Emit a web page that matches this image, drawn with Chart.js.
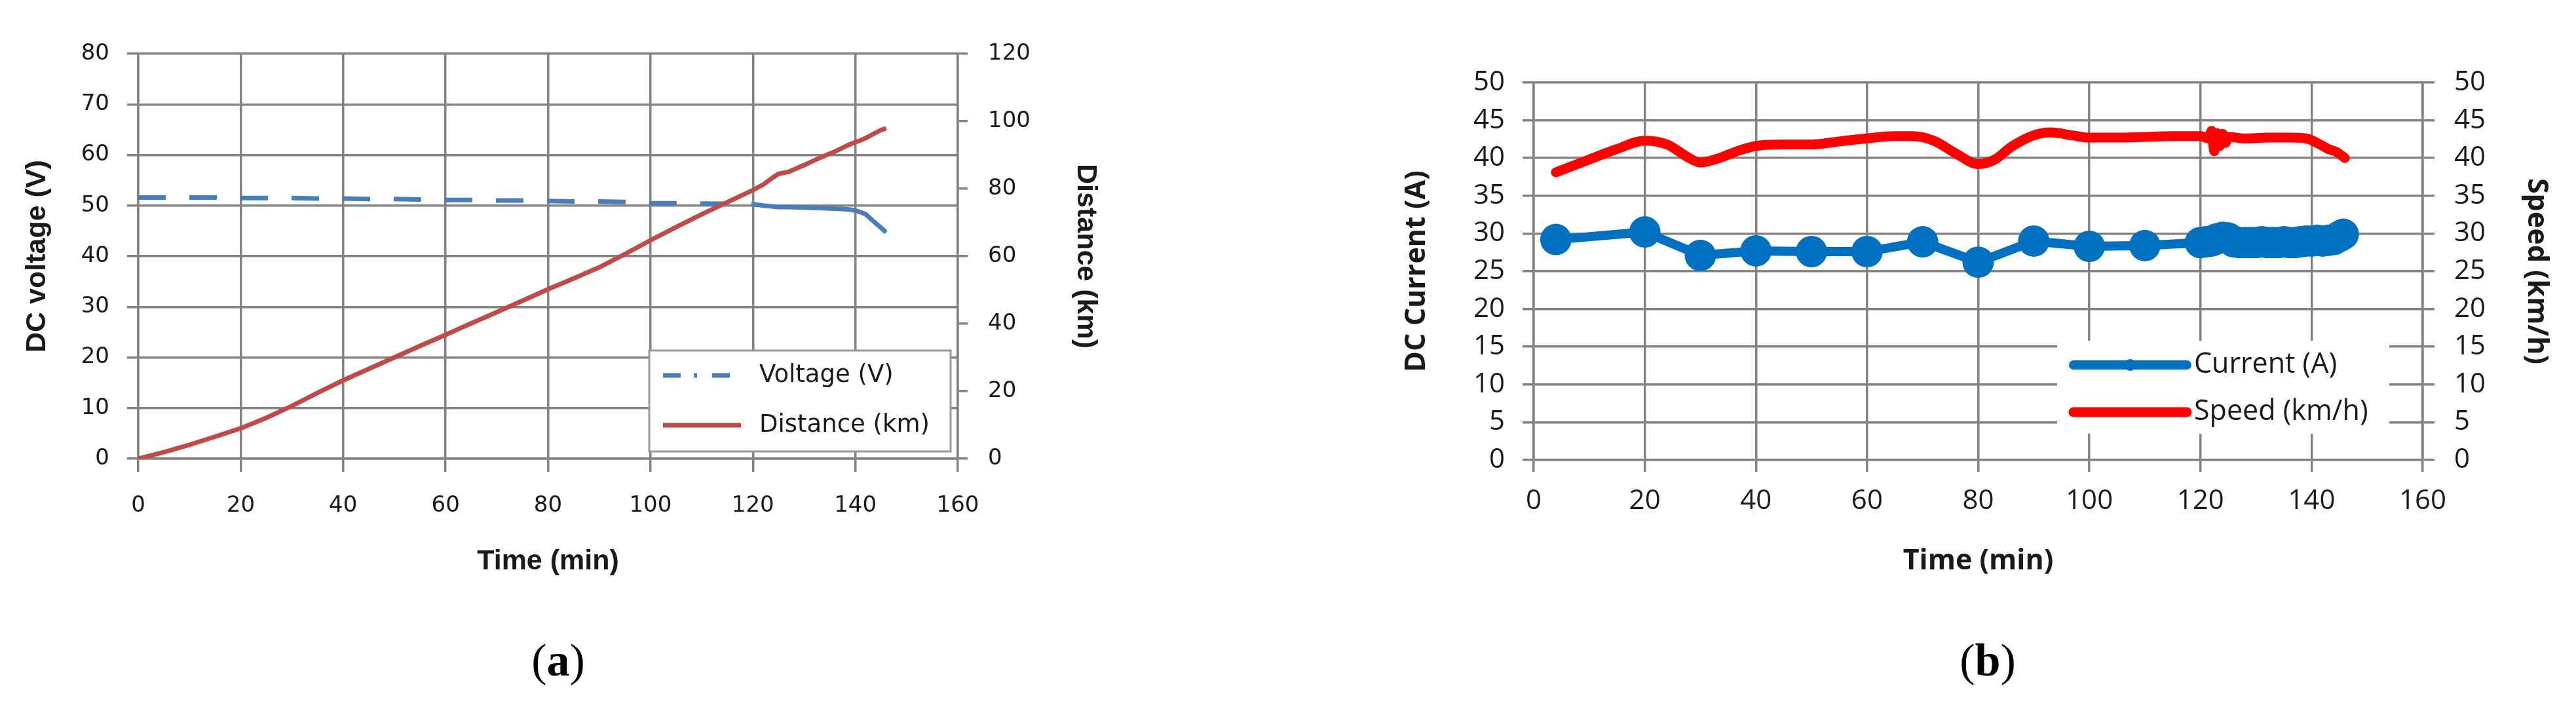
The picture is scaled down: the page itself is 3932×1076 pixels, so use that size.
<!DOCTYPE html>
<html>
<head>
<meta charset="utf-8">
<script src="https://cdn.jsdelivr.net/npm/chart.js@4.4.1/dist/chart.umd.min.js"></script>
<style>
    body { margin: 0; width: 3932px; height: 1076px; background: #fff; position: relative; overflow: hidden; }
    canvas { position: absolute; top: 0; }
    #grafica-a { left: 0; }
    #grafica-b { left: 1966px; }
    .pie { position: absolute; top: 968px; font-family: 'Liberation Serif', serif; font-size: 70px; line-height: 80px; transform: translateX(-50%); color: #000; }
</style>
</head>
<body>
<canvas id="grafica-a" width="1966" height="900"></canvas>
<canvas id="grafica-b" width="1966" height="900"></canvas>
<div class="pie" style="left:852px">(<b>a</b>)</div>
<div class="pie" style="left:3034px">(<b>b</b>)</div>
<script>
//--------------------------------------DATOS (a)
var tiempoA = [0, 5, 10, 15, 20, 25, 30, 35, 40, 45, 50, 55, 60, 65, 70, 75, 80, 85, 90, 95, 100, 105, 110, 115, 120,
    122, 124, 125, 127, 130, 133, 136, 138, 139, 140, 141, 142, 143, 144, 145, 146];
var voltaje = [51.6, 51.6, 51.6, 51.6, 51.5, 51.5, 51.5, 51.4, 51.4, 51.3, 51.3, 51.2, 51.1, 51.1, 51.0, 51.0, 50.9, 50.8, 50.8, 50.7, 50.5, 50.45, 50.4, 50.35, 50.3,
    50.0, 49.8, 49.7, 49.7, 49.6, 49.5, 49.4, 49.3, 49.2, 49.0, 48.7, 48.3, 47.4, 46.5, 45.6, 44.7];
var distancia = [0, 1.9, 4.1, 6.5, 9.0, 12.1, 15.6, 19.5, 23.2, 26.6, 30.0, 33.4, 36.7, 40.1, 43.4, 46.8, 50.2, 53.4, 56.7, 60.6, 64.7, 68.6, 72.4, 76.0, 79.6,
    81.2, 83.4, 84.4, 85.0, 87.0, 89.1, 91.0, 92.5, 93.2, 93.8, 94.3, 95.0, 95.8, 96.6, 97.4, 97.9];

//--------------------------------------DATOS (b)
var tiempoCorr = [4, 20, 30, 40, 50, 60, 70, 80, 90, 100, 110, 120, 121, 122, 123, 124, 125, 126, 127, 128, 129, 130,
    131, 132, 133, 134, 135, 136, 137, 138, 139, 140, 141, 142, 143, 144, 145, 145.7];
var corriente = [29.2, 30.2, 27.1, 27.7, 27.6, 27.6, 28.9, 26.2, 29.0, 28.3, 28.4, 28.8, 28.9, 29.0, 29.3, 29.5, 29.4, 28.9, 28.8, 28.8, 28.8, 28.8,
    28.9, 28.8, 28.8, 28.8, 28.9, 28.8, 28.8, 28.9, 29.0, 29.0, 29.1, 29.0, 29.1, 29.2, 29.6, 29.9];
var tiempoVel = [4, 10, 15, 20, 24, 28, 30, 33, 37, 40, 45, 50, 55, 60, 65, 68, 72, 76, 80, 83, 86, 90, 93, 97, 100, 105, 110, 115, 120,
    121.5, 122, 122.5, 123, 123.5, 124, 124.5, 125, 128, 132, 136, 139, 141, 143, 144.5, 146];
var velocidad = [38.1, 39.8, 41.2, 42.3, 41.8, 40.0, 39.4, 39.9, 41.0, 41.6, 41.8, 41.8, 42.2, 42.6, 42.9, 42.9, 42.3, 40.6, 39.2, 39.8, 41.5, 43.0, 43.4, 43.0, 42.7, 42.7, 42.8, 42.9, 42.9,
    42.6, 43.6, 40.9, 43.3, 41.6, 43.2, 42.0, 42.8, 42.6, 42.7, 42.7, 42.6, 42.0, 41.2, 40.8, 40.0];

var fuenteA = "'DejaVu Sans', sans-serif";
var fuenteTituloA = "'Liberation Sans Narrow', 'Liberation Sans', sans-serif";
var fuenteB = "'Open Sans', sans-serif";
var colorGrid = '#838383';
var colorTexto = '#1a1a1a';

function pares(xs, ys) {
    var arr = [];
    for (var i = 0; i < xs.length; i++) {
        arr.push({x: xs[i], y: ys[i]});
    }
    return arr;
}

//--------------------------------------LEYENDA DENTRO DEL AREA
var leyendaPlugin = {
    id: 'leyenda',
    afterDraw: function (chart, args, opts) {
        if (!opts.items) {
            return;
        }
        var ctx = chart.ctx;
        var a = chart.chartArea;
        var b = opts.caja;
        ctx.save();
        ctx.fillStyle = '#ffffff';
        ctx.fillRect(a.left + b[0], a.top + b[1], b[2], b[3]);
        if (opts.borde) {
            ctx.strokeStyle = opts.borde;
            ctx.lineWidth = 3;
            ctx.strokeRect(a.left + b[0], a.top + b[1], b[2], b[3]);
        }
        opts.items.forEach(function (it) {
            var ds = chart.data.datasets[it.ds];
            var y = a.top + it.y;
            ctx.strokeStyle = ds.borderColor;
            ctx.lineWidth = ds.borderWidth;
            ctx.lineCap = it.cap || 'butt';
            ctx.setLineDash(it.dash || []);
            ctx.beginPath();
            ctx.moveTo(a.left + opts.linea[0], y);
            ctx.lineTo(a.left + opts.linea[1], y);
            ctx.stroke();
            ctx.setLineDash([]);
            if (it.punto) {
                ctx.fillStyle = ds.borderColor;
                ctx.beginPath();
                ctx.arc(a.left + (opts.linea[0] + opts.linea[1]) / 2, y, it.punto, 0, 2 * Math.PI);
                ctx.fill();
            }
            ctx.fillStyle = colorTexto;
            ctx.font = opts.font;
            ctx.textBaseline = 'middle';
            ctx.textAlign = 'left';
            ctx.fillText(ds.label, a.left + opts.textoX, y);
        });
        ctx.restore();
    }
};

//--------------------------------------GRAFICA (a)
function graficaA() {
    var fTick = {family: fuenteA, size: 34};
    new Chart(document.getElementById('grafica-a'), {
        type: 'line',
        data: {
            datasets: [{
                label: 'Voltage (V)',
                data: pares(tiempoA, voltaje),
                yAxisID: 'y',
                borderColor: '#4A7EBB',
                borderWidth: 7,
                borderDash: [42, 36],
                segment: {
                    borderDash: function (c) {
                        return c.p0.parsed.x >= 120 ? [] : undefined;
                    }
                },
                pointRadius: 0,
                order: 1
            }, {
                label: 'Distance (km)',
                data: pares(tiempoA, distancia),
                yAxisID: 'y1',
                borderColor: '#BE4B48',
                borderWidth: 7,
                pointRadius: 0,
                order: 0
            }]
        },
        options: {
            responsive: false,
            animation: false,
            layout: {padding: {left: 0, top: 82, right: 266, bottom: 0}},
            plugins: {
                legend: {display: false},
                tooltip: {enabled: false},
                leyenda: {
                    caja: [780, 453, 460, 154],
                    borde: '#9a9a9a',
                    linea: [801, 920],
                    textoX: 948,
                    font: '37px ' + fuenteA,
                    items: [
                        {ds: 0, y: 491, dash: [27, 20, 5, 23]},
                        {ds: 1, y: 567}
                    ]
                }
            },
            scales: {
                x: {
                    type: 'linear', min: 0, max: 160,
                    ticks: {stepSize: 20, padding: 32, color: colorTexto, font: fTick},
                    grid: {color: colorGrid, lineWidth: 3.5, tickLength: 20},
                    border: {color: colorGrid, width: 3.5},
                    title: {display: true, text: 'Time (min)', color: colorTexto,
                        font: {family: "'Liberation Sans', sans-serif", size: 43, weight: 'bold'}, padding: {top: 0, bottom: 17}},
                    afterFit: function (s) { s.height = 200; }
                },
                y: {
                    position: 'left', min: 0, max: 80,
                    ticks: {stepSize: 10, padding: 27, color: colorTexto, font: fTick, autoSkip: false},
                    grid: {color: colorGrid, lineWidth: 3.5, tickLength: 17},
                    border: {color: colorGrid, width: 3.5},
                    title: {display: true, text: 'DC voltage (V)', color: colorTexto,
                        font: {family: fuenteTituloA, size: 43, weight: 'bold'}, padding: {top: 31, bottom: 0}},
                    afterFit: function (s) { s.width = 211; }
                },
                y1: {
                    position: 'right', min: 0, max: 120,
                    ticks: {stepSize: 20, padding: 31, color: colorTexto, font: fTick, autoSkip: false},
                    grid: {color: colorGrid, lineWidth: 3.5, tickLength: 15, drawOnChartArea: false},
                    border: {color: colorGrid, width: 3.5},
                    title: {display: true, text: 'Distance (km)', color: colorTexto,
                        font: {family: fuenteTituloA, size: 43, weight: 'bold'}, padding: {top: 17, bottom: 0}},
                    afterFit: function (s) { s.width = 238; }
                }
            }
        },
        plugins: [leyendaPlugin]
    });
}

//--------------------------------------GRAFICA (b)
function graficaB() {
    var fTick = {family: fuenteB, size: 42};
    var fTitulo = {family: fuenteB, size: 43, weight: 'bold'};
    new Chart(document.getElementById('grafica-b'), {
        type: 'line',
        data: {
            datasets: [{
                label: 'Current (A)',
                data: pares(tiempoCorr, corriente),
                yAxisID: 'y',
                borderColor: '#0070C0',
                backgroundColor: '#0070C0',
                borderWidth: 14,
                borderJoinStyle: 'round',
                pointRadius: 24,
                pointBorderWidth: 0,
                pointBackgroundColor: '#0070C0',
                order: 1
            }, {
                label: 'Speed (km/h)',
                data: pares(tiempoVel, velocidad),
                yAxisID: 'y1',
                borderColor: '#FF0000',
                borderWidth: 15,
                borderCapStyle: 'round',
                borderJoinStyle: 'round',
                cubicInterpolationMode: 'monotone',
                pointRadius: 0,
                order: 0
            }]
        },
        options: {
            responsive: false,
            animation: false,
            layout: {padding: {left: 150, top: 126, right: 20, bottom: 0}},
            plugins: {
                legend: {display: false},
                tooltip: {enabled: false},
                leyenda: {
                    caja: [799, 394, 507, 142],
                    linea: [824, 997],
                    textoX: 1008,
                    font: '43px ' + fuenteB,
                    items: [
                        {ds: 0, y: 431, cap: 'round', punto: 9},
                        {ds: 1, y: 503, cap: 'round'}
                    ]
                }
            },
            scales: {
                x: {
                    type: 'linear', min: 0, max: 160,
                    ticks: {stepSize: 20, padding: 20, color: colorTexto, font: fTick},
                    grid: {color: colorGrid, lineWidth: 3.5, tickLength: 18},
                    border: {color: colorGrid, width: 3.5},
                    title: {display: true, text: 'Time (min)', color: colorTexto, font: fTitulo, padding: {top: 0, bottom: 17}},
                    afterFit: function (s) { s.height = 198; }
                },
                y: {
                    position: 'left', min: 0, max: 50,
                    ticks: {stepSize: 5, padding: 27, color: colorTexto, font: fTick, autoSkip: false},
                    grid: {color: colorGrid, lineWidth: 3.5, tickLength: 17},
                    border: {color: colorGrid, width: 3.5},
                    title: {display: true, text: 'DC Current (A)', color: colorTexto, font: fTitulo, padding: {top: 21, bottom: 0}},
                    afterFit: function (s) { s.width = 225; }
                },
                y1: {
                    position: 'right', min: 0, max: 50,
                    ticks: {stepSize: 5, padding: 30, color: colorTexto, font: fTick, autoSkip: false},
                    grid: {color: colorGrid, lineWidth: 3.5, tickLength: 18, drawOnChartArea: false},
                    border: {color: colorGrid, width: 3.5},
                    title: {display: true, text: 'Speed (km/h)', color: colorTexto, font: fTitulo, padding: {top: 15, bottom: 0}},
                    afterFit: function (s) { s.width = 214; }
                }
            }
        },
        plugins: [leyendaPlugin]
    });
}

graficaA();
graficaB();
</script>
</body>
</html>
